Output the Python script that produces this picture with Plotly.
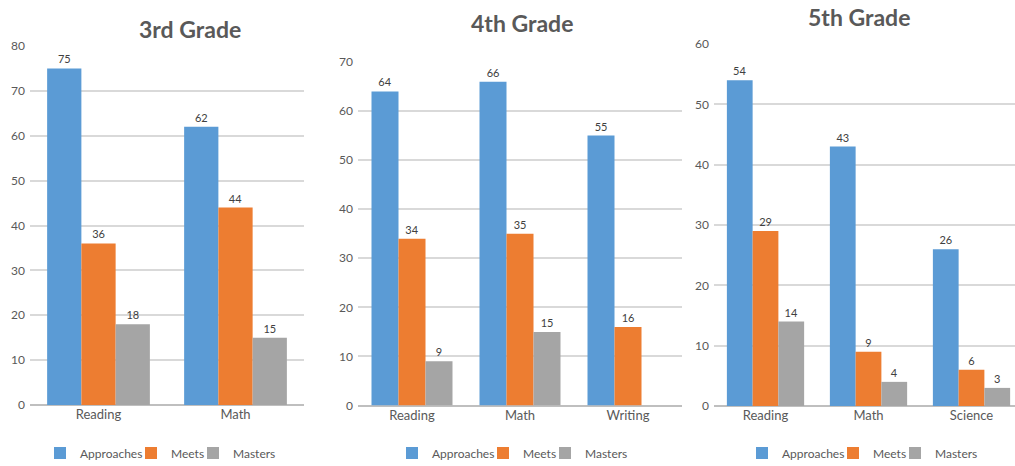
import plotly.graph_objects as go

series = ["Approaches", "Meets", "Masters"]
colors = ["#5B9BD5", "#ED7D31", "#A5A5A5"]

g3_title = "3rd Grade"
g3_cats = ["Reading", "Math"]
g3_approaches = [75, 62]
g3_meets = [36, 44]
g3_masters = [18, 15]

g4_title = "4th Grade"
g4_cats = ["Reading", "Math", "Writing"]
g4_approaches = [64, 66, 55]
g4_meets = [34, 35, 16]
g4_masters = [9, 15, None]

g5_title = "5th Grade"
g5_cats = ["Reading", "Math", "Science"]
g5_approaches = [54, 43, 26]
g5_meets = [29, 9, 6]
g5_masters = [14, 4, 3]

W, H = 1015, 466
FONT = "Lato"
TXT = "#595959"
legend_widths = [46, 17, 46]

panels = [
    dict(title=g3_title, cats=g3_cats, vals=[g3_approaches, g3_meets, g3_masters],
         x0=30, x1=304, y0=405, y1=46, ymax=80, xr=None, tx=190, ty=29, lx=40, sfx=""),
    dict(title=g4_title, cats=g4_cats, vals=[g4_approaches, g4_meets, g4_masters],
         x0=358, x1=682, y0=405.5, y1=62, ymax=70, xr=None, tx=522, ty=23, lx=392, sfx="2"),
    dict(title=g5_title, cats=g5_cats, vals=[g5_approaches, g5_meets, g5_masters],
         x0=714, x1=1015, y0=406, y1=44, ymax=60, xr=[-0.5, -0.5 + 301 / 103.0], tx=859, ty=17, lx=742, sfx="3"),
]

fig = go.Figure()
layout = dict(
    width=W, height=H,
    margin=dict(l=0, r=0, t=0, b=0, autoexpand=False),
    paper_bgcolor="white", plot_bgcolor="white",
    barmode="group", bargap=0.25, bargroupgap=0,
    font=dict(family=FONT, color=TXT, size=12),
    annotations=[],
)

for i, p in enumerate(panels):
    sfx = p["sfx"]
    xa = "x" + sfx
    ya = "y" + sfx
    leg = "legend" + sfx
    for s, c, v, lw in zip(series, colors, p["vals"], legend_widths):
        fig.add_trace(go.Bar(
            x=p["cats"], y=v, name=s, marker=dict(color=c, line=dict(width=0)),
            text=[("" if t is None else str(t)) for t in v], textposition="outside",
            textfont=dict(size=11, color="#404040", family=FONT), cliponaxis=False,
            xaxis=xa, yaxis=ya, legend=leg, offsetgroup=s, legendwidth=lw,
        ))
    xd = [p["x0"] / W, p["x1"] / W]
    yd = [(H - p["y0"]) / H, (H - p["y1"]) / H]
    xaxis = dict(domain=xd, anchor=ya, showgrid=False, showline=False, ticks="",
                 automargin=False,
                 tickfont=dict(size=13, color=TXT, family=FONT), fixedrange=True)
    if p["xr"]:
        xaxis["range"] = p["xr"]
    yaxis = dict(domain=yd, anchor=xa, range=[0, p["ymax"]], dtick=10,
                 automargin=False,
                 showgrid=True, gridcolor="#D9D9D9", gridwidth=2,
                 zeroline=True, zerolinecolor="#BFBFBF", zerolinewidth=2,
                 showline=False, ticks="", tickfont=dict(size=12, color=TXT, family=FONT),
                 ticklabelstandoff=4)
    layout["xaxis" + sfx] = xaxis
    layout["yaxis" + sfx] = yaxis
    layout[leg] = dict(orientation="h", x=p["lx"] / W, xanchor="left",
                       y=(H - 453) / H, yanchor="middle",
                       font=dict(size=12, color=TXT, family=FONT),
                       itemwidth=30, bgcolor="rgba(0,0,0,0)")
    layout["annotations"].append(dict(
        text="<b>" + p["title"] + "</b>", x=p["tx"] / W, y=(H - p["ty"]) / H,
        xref="paper", yref="paper", xanchor="center", yanchor="middle",
        showarrow=False, font=dict(size=23, color=TXT, family=FONT)))

fig.update_layout(**layout)
fig.write_html("out.html", config={"displayModeBar": False},
               post_script="document.body.style.margin='0';document.body.style.padding='0';")
